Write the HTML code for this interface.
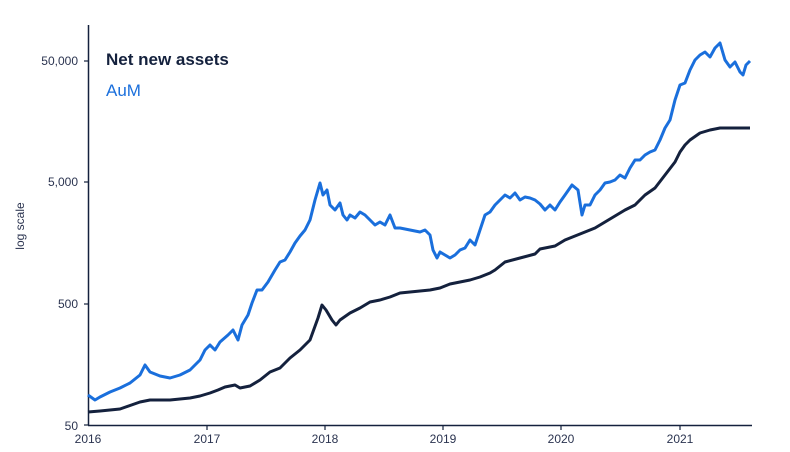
<!DOCTYPE html>
<html><head><meta charset="utf-8"><style>
html,body{margin:0;padding:0;background:#fff;}
svg{display:block;font-family:"Liberation Sans",sans-serif;}
</style></head><body>
<svg width="790" height="452" viewBox="0 0 790 452">
<line x1="88.5" y1="25" x2="88.5" y2="425" stroke="#14213d" stroke-width="1.5"/>
<line x1="88" y1="425.5" x2="752" y2="425.5" stroke="#14213d" stroke-width="1.5"/>
<g stroke="#14213d" stroke-width="1.2">
<line x1="84" y1="61" x2="88" y2="61"/><line x1="84" y1="182" x2="88" y2="182"/><line x1="84" y1="304" x2="88" y2="304"/><line x1="84" y1="425" x2="88" y2="425"/>
<line x1="207" y1="425" x2="207" y2="430"/><line x1="325" y1="425" x2="325" y2="430"/><line x1="443" y1="425" x2="443" y2="430"/><line x1="561" y1="425" x2="561" y2="430"/><line x1="680" y1="425" x2="680" y2="430"/>
</g>
<g fill="#2b3450" font-size="12" text-anchor="end">
<text x="78" y="65">50,000</text><text x="78" y="186">5,000</text><text x="78" y="308">500</text><text x="78" y="430">50</text>
</g>
<g fill="#2b3450" font-size="12" text-anchor="middle">
<text x="88" y="443">2016</text><text x="207" y="443">2017</text><text x="325" y="443">2018</text><text x="443" y="443">2019</text><text x="561" y="443">2020</text><text x="680" y="443">2021</text>
</g>
<text transform="translate(24,226) rotate(-90)" text-anchor="middle" font-size="12" fill="#2b3450">log scale</text>
<text x="106" y="65" font-size="17" font-weight="bold" fill="#14213d">Net new assets</text>
<text x="106" y="96" font-size="17" fill="#1a6fdc">AuM</text>
<polyline fill="none" stroke="#1a6fdc" stroke-width="3" stroke-linejoin="round" points="88,395 95,400 100,397 110,392 120,388 130,383 140,375 145,365 150,372 160,376 170,378 180,375 190,370 200,360 205,350 210,345 215,350 220,342 228,335 233,330 238,340 242,325 248,315 252,303 257,290 262,290 268,282 275,270 280,262 285,260 290,252 295,243 300,236 305,230 310,220 315,200 320,183 323,195 327,190 330,205 335,210 340,203 343,215 347,220 350,215 355,218 360,212 365,215 370,220 375,225 380,222 385,225 390,215 395,228 400,228 410,230 420,232 425,230 430,235 433,250 437,258 440,252 445,255 450,258 455,255 460,250 465,248 470,240 475,245 480,230 485,215 490,212 495,205 500,200 505,195 510,198 515,193 520,200 525,197 530,198 535,200 540,204 545,210 550,205 555,210 560,202 565,195 572,185 578,190 582,215 585,205 590,205 595,195 600,190 605,183 610,182 615,180 620,175 625,178 630,168 635,160 640,160 645,155 650,152 655,150 660,140 665,128 670,120 675,100 680,85 685,83 690,70 695,60 700,55 705,52 710,57 715,48 720,43 725,60 730,67 735,62 740,72 743,75 746,65 750,61"/>
<polyline fill="none" stroke="#14213d" stroke-width="3" stroke-linejoin="round" points="88,412 100,411 110,410 120,409 140,402 150,400 170,400 180,399 190,398 200,396 210,393 218,390 225,387 235,385 240,388 250,386 260,380 270,372 280,368 290,358 300,350 310,340 318,318 322,305 326,310 332,320 336,325 340,320 350,313 360,308 370,302 380,300 390,297 400,293 410,292 430,290 440,288 450,284 460,282 470,280 480,277 490,273 495,270 505,262 520,258 535,254 540,249 555,246 565,240 575,236 585,232 595,228 605,222 615,216 625,210 635,205 645,195 655,188 665,175 675,162 680,152 685,145 690,140 700,133 710,130 720,128 750,128"/>
</svg>
</body></html>
